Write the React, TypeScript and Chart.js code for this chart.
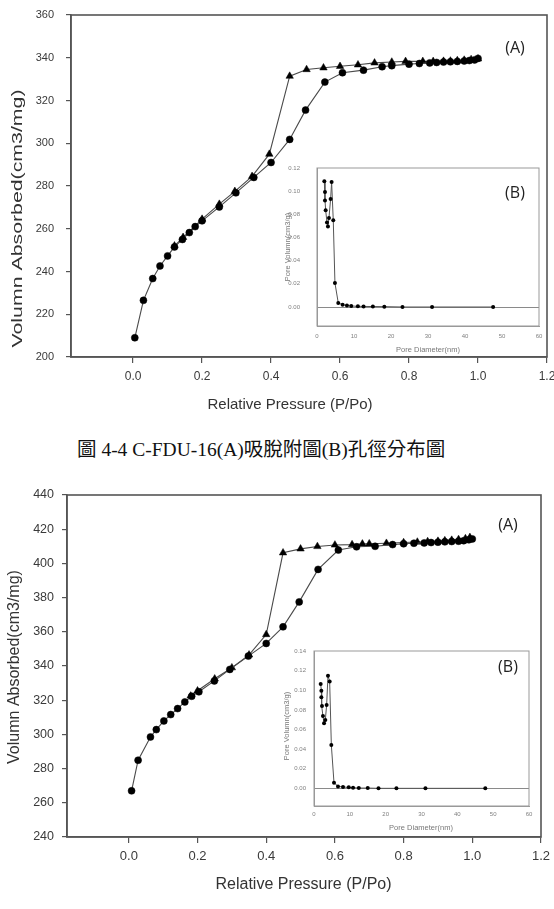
import React, { useEffect, useRef } from 'react';
import { Chart, registerables } from 'chart.js';
Chart.register(...registerables);

// ---------- DATA ----------
// Chart (top): C-FDU-16 isotherm
const adsX1 = [0.005, 0.03, 0.057, 0.078, 0.1, 0.12, 0.143, 0.163, 0.18, 0.2, 0.25, 0.298, 0.35, 0.4, 0.454, 0.5, 0.556, 0.607, 0.668, 0.722, 0.75, 0.8, 0.83, 0.86, 0.88, 0.9, 0.92, 0.94, 0.96, 0.975, 0.99, 1.0];
const adsY1 = [209, 226.5, 236.7, 242.6, 247.3, 251.5, 255, 258.2, 261, 263.7, 270.2, 276.8, 284, 291, 301.8, 315.5, 328.6, 333, 334.2, 335.8, 336.3, 337, 337.3, 337.6, 337.8, 338, 338.1, 338.3, 338.5, 338.7, 339, 339.7];
const desX1 = [1.0, 0.98, 0.96, 0.94, 0.92, 0.9, 0.87, 0.84, 0.79, 0.75, 0.7, 0.652, 0.6, 0.552, 0.503, 0.454, 0.395, 0.345, 0.295, 0.25, 0.2, 0.145, 0.12];
const desY1 = [339.5, 339.2, 338.9, 338.7, 338.5, 338.4, 338.3, 338.3, 338.3, 338, 337.6, 336.7, 336, 335.3, 334.5, 331.4, 294.9, 284.5, 277.5, 271.5, 264.5, 256, 252];

// Inset (top): pore size distribution
const poreX1 = [1.98, 2.16, 2.16, 2.34, 2.7, 2.96, 3.23, 3.68, 3.95, 4.4, 4.85, 5.75, 6.92, 8.09, 9.25, 11.05, 12.58, 15.1, 18.2, 23.1, 31.1, 47.6];
const poreY1 = [0.1085, 0.0993, 0.092, 0.0835, 0.073, 0.0696, 0.0768, 0.0932, 0.108, 0.0748, 0.0207, 0.0035, 0.002, 0.0012, 0.0009, 0.0006, 0.0005, 0.0004, 0.0003, 0, 0, 0];

// Chart (bottom): isotherm
const adsX2 = [0.008, 0.027, 0.063, 0.08, 0.102, 0.122, 0.142, 0.163, 0.183, 0.204, 0.249, 0.294, 0.348, 0.4, 0.449, 0.496, 0.551, 0.61, 0.663, 0.717, 0.768, 0.8, 0.83, 0.86, 0.88, 0.9, 0.92, 0.94, 0.96, 0.975, 0.99, 1.0];
const adsY2 = [267, 284.9, 298.5, 302.8, 307.9, 311.6, 315.1, 319, 322.3, 324.9, 331.3, 338, 345.8, 353.2, 362.9, 377.5, 396.5, 407.8, 409.7, 410, 411, 411.5, 411.8, 412, 412.2, 412.4, 412.6, 412.8, 413, 413.3, 413.8, 414.3];
const desX2 = [0.993, 0.98, 0.96, 0.94, 0.92, 0.9, 0.87, 0.84, 0.8, 0.75, 0.7, 0.68, 0.65, 0.6, 0.549, 0.5, 0.449, 0.4, 0.35, 0.3, 0.25, 0.2, 0.18];
const desY2 = [415.2, 414.5, 414, 413.6, 413.3, 413, 412.8, 412.5, 412.2, 411.8, 411.5, 411.4, 411, 410.8, 409.9, 408.5, 406.2, 358.4, 346.5, 339, 332.5, 325.5, 322.5];

// Inset (bottom)
const poreX2 = [1.86, 2.05, 2.05, 2.23, 2.5, 2.8, 3.16, 3.53, 3.9, 4.37, 4.84, 5.58, 6.7, 8.1, 9.7, 10.9, 12.5, 15, 18, 23, 31.1, 47.8];
const poreY2 = [0.1063, 0.0996, 0.0928, 0.0839, 0.0737, 0.0663, 0.0697, 0.085, 0.1148, 0.109, 0.0442, 0.0058, 0.002, 0.0014, 0.001, 0.0007, 0.0003, 0.0003, 0, 0, 0, 0];

// Tick labels
const pressureTicks = [0, 0.2, 0.4, 0.6, 0.8, 1.0, 1.2];
const volumeTicks1 = [200, 220, 240, 260, 280, 300, 320, 340, 360];
const volumeTicks2 = [240, 260, 280, 300, 320, 340, 360, 380, 400, 420, 440];
const diameterTicks = [0, 10, 20, 30, 40, 50, 60];
const poreVolTicks1 = [0, 0.02, 0.04, 0.06, 0.08, 0.1, 0.12];
const poreVolTicks2 = [0, 0.02, 0.04, 0.06, 0.08, 0.1, 0.12, 0.14];

// Texts
const yTitleMain = 'Volumn Absorbed(cm3/mg)';
const xTitleMain = 'Relative Pressure (P/Po)';
const yTitleInset = 'Pore Volumn(cm3/g)';
const xTitleInset = 'Pore Diameter(nm)';
const caption = '圖 4-4 C-FDU-16(A)吸脫附圖(B)孔徑分布圖';

// ---------- HELPERS ----------
const SANS = "'Liberation Sans', Arial, sans-serif";
const LABEL_FONT = "'Open Sans', 'Liberation Sans', sans-serif";

type TextItem = { text: string; x: number; y: number; font: string; color: string; rotate?: boolean; sx?: number };

function zip(xs: number[], ys: number[]) {
  return xs.map((x, i) => ({ x, y: ys[i] }));
}

function makeDecor(ox: number, oy: number, items: TextItem[], frameColor: string, frameWidth: number) {
  return {
    id: 'decor',
    afterDraw(chart: any) {
      const ctx = chart.ctx;
      const a = chart.chartArea;
      ctx.save();
      ctx.strokeStyle = frameColor;
      ctx.lineWidth = frameWidth;
      ctx.strokeRect(a.left, a.top, a.right - a.left, a.bottom - a.top);
      ctx.restore();
      for (const t of items) {
        ctx.save();
        ctx.font = t.font;
        ctx.fillStyle = t.color;
        ctx.textAlign = 'center';
        ctx.textBaseline = 'middle';
        ctx.translate(t.x - ox, t.y - oy);
        if (t.rotate) ctx.rotate(-Math.PI / 2);
        if (t.sx) ctx.scale(t.sx, 1);
        ctx.fillText(t.text, 0, 0);
        ctx.restore();
      }
    },
  };
}

type Box = { left: number; top: number; width: number; height: number };
type Area = { l: number; t: number; r: number; b: number };

function CanvasChart({ box, build }: { box: Box; build: () => any }) {
  const ref = useRef<HTMLCanvasElement | null>(null);
  useEffect(() => {
    if (!ref.current) return;
    const chart = new Chart(ref.current, build());
    return () => chart.destroy();
  }, []);
  return (
    <div style={{ position: 'absolute', left: box.left, top: box.top, width: box.width, height: box.height }}>
      <canvas ref={ref} width={box.width} height={box.height} style={{ width: box.width, height: box.height, display: 'block' }} />
    </div>
  );
}

function fixedAxis(ticks: number[], size: number, horizontal: boolean) {
  return {
    afterBuildTicks: (s: any) => {
      s.ticks = ticks.map((v) => ({ value: v }));
    },
    afterFit: (s: any) => {
      if (horizontal) s.height = size;
      else s.width = size;
      s.paddingLeft = 0;
      s.paddingRight = 0;
      s.paddingTop = 0;
      s.paddingBottom = 0;
    },
  };
}

function mainConfig(opts: {
  box: Box; area: Area; yMin: number; yMax: number; yTicks: number[];
  ads: { x: number; y: number }[]; des: { x: number; y: number }[];
  xFont: number; yFont: number; xPad: number; yPad: number; items: TextItem[];
}) {
  const { box, area } = opts;
  const tickColor = '#3a3a3a';
  return {
    type: 'scatter',
    data: {
      datasets: [
        {
          label: 'Adsorption', data: opts.ads, showLine: true, borderColor: '#4a4a4a', borderWidth: 1.1,
          pointStyle: 'circle', pointRadius: 3.5, pointBackgroundColor: '#000', pointBorderColor: '#000', pointBorderWidth: 0.5,
        },
        {
          label: 'Desorption', data: opts.des, showLine: true, borderColor: '#4a4a4a', borderWidth: 1.1,
          pointStyle: 'triangle', pointRadius: 4.3, pointBackgroundColor: '#000', pointBorderColor: '#000', pointBorderWidth: 0.5,
        },
      ],
    },
    options: {
      responsive: false, animation: false, devicePixelRatio: 1,
      layout: { padding: { left: 0, top: area.t - box.top, right: box.left + box.width - area.r, bottom: 0 } },
      plugins: { legend: { display: false }, tooltip: { enabled: false } },
      scales: {
        x: {
          type: 'linear', min: -0.18, max: 1.2,
          ...fixedAxis(pressureTicks, box.top + box.height - area.b, true),
          grid: { display: true, drawOnChartArea: false, drawTicks: true, tickLength: 6, color: '#555', lineWidth: 1.2 },
          border: { display: true, color: '#555', width: 1.5 },
          ticks: { autoSkip: false, maxRotation: 0, padding: opts.xPad, color: tickColor, font: { family: SANS, size: opts.xFont }, callback: (v: any) => Number(v).toFixed(1) },
        },
        y: {
          type: 'linear', min: opts.yMin, max: opts.yMax,
          ...fixedAxis(opts.yTicks, area.l - box.left, false),
          grid: { display: true, drawOnChartArea: false, drawTicks: true, tickLength: 5, color: '#555', lineWidth: 1.2 },
          border: { display: true, color: '#555', width: 1.5 },
          ticks: { autoSkip: false, padding: opts.yPad, color: tickColor, font: { family: SANS, size: opts.yFont }, callback: (v: any) => String(v) },
        },
      },
    },
    plugins: [makeDecor(box.left, box.top, opts.items, '#555', 1.6)],
  };
}

function insetConfig(opts: {
  box: Box; area: Area; yMin: number; yMax: number; yTicks: number[];
  pts: { x: number; y: number }[]; xPad: number; yPad: number; items: TextItem[];
}) {
  const { box, area } = opts;
  const c = '#808080';
  return {
    type: 'scatter',
    data: {
      datasets: [
        {
          label: 'Pore volume', data: opts.pts, showLine: true, borderColor: '#555', borderWidth: 1,
          pointStyle: 'circle', pointRadius: 2, pointBackgroundColor: '#000', pointBorderColor: '#000', pointBorderWidth: 0,
        },
      ],
    },
    options: {
      responsive: false, animation: false, devicePixelRatio: 1,
      layout: { padding: { left: 0, top: area.t - box.top, right: box.left + box.width - area.r, bottom: 0 } },
      plugins: { legend: { display: false }, tooltip: { enabled: false } },
      scales: {
        x: {
          type: 'linear', min: 0, max: 60,
          ...fixedAxis(diameterTicks, box.top + box.height - area.b, true),
          grid: { display: true, drawOnChartArea: false, drawTicks: false, color: c },
          border: { display: true, color: '#999', width: 1 },
          ticks: { autoSkip: false, maxRotation: 0, padding: opts.xPad, color: c, font: { family: SANS, size: 6 }, callback: (v: any) => String(v) },
        },
        y: {
          type: 'linear', min: opts.yMin, max: opts.yMax,
          ...fixedAxis(opts.yTicks, area.l - box.left, false),
          grid: {
            display: true, drawOnChartArea: true, drawTicks: false, lineWidth: 1,
            color: (ctx: any) => (ctx.tick && ctx.tick.value === 0 ? '#8a8a8a' : 'rgba(0,0,0,0)'),
          },
          border: { display: true, color: '#999', width: 1 },
          ticks: { autoSkip: false, padding: opts.yPad, color: c, font: { family: SANS, size: 6 }, callback: (v: any) => Number(v).toFixed(2) },
        },
      },
    },
    plugins: [makeDecor(box.left, box.top, opts.items, '#999', 1)],
  };
}

// ---------- LAYOUT ----------
const main1Box: Box = { left: 0, top: 0, width: 554, height: 420 };
const main1Area: Area = { l: 71, t: 15, r: 547, b: 357 };
const inset1Box: Box = { left: 280, top: 160, width: 270, height: 200 };
const inset1Area: Area = { l: 317, t: 168, r: 539, b: 326 };

const main2Box: Box = { left: 0, top: 480, width: 554, height: 420 };
const main2Area: Area = { l: 67, t: 495, r: 541, b: 837 };
const inset2Box: Box = { left: 280, top: 640, width: 260, height: 200 };
const inset2Area: Area = { l: 314, t: 651, r: 529, b: 806 };

const titleColor = '#333';

export default function App() {
  return (
    <div style={{ position: 'absolute', left: 0, top: 0, width: 554, height: 909, background: '#fff', overflow: 'hidden' }}>
      <CanvasChart
        box={main1Box}
        build={() =>
          mainConfig({
            box: main1Box, area: main1Area, yMin: 200, yMax: 360, yTicks: volumeTicks1,
            ads: zip(adsX1, adsY1), des: zip(desX1, desY1), xFont: 12, yFont: 11, xPad: 6, yPad: 12,
            items: [
              { text: yTitleMain, x: 17.5, y: 218.5, font: `15px ${SANS}`, color: titleColor, rotate: true, sx: 1.42 },
              { text: xTitleMain, x: 290, y: 405, font: `15px ${SANS}`, color: titleColor },
              { text: '(A)', x: 515, y: 48, font: `16px ${LABEL_FONT}`, color: '#222' },
            ],
          })
        }
      />
      <CanvasChart
        box={inset1Box}
        build={() =>
          insetConfig({
            box: inset1Box, area: inset1Area, yMin: -0.0164, yMax: 0.12, yTicks: poreVolTicks1,
            pts: zip(poreX1, poreY1), xPad: 7, yPad: 17,
            items: [
              { text: yTitleInset, x: 288, y: 247, font: `7.5px ${SANS}`, color: '#777', rotate: true },
              { text: xTitleInset, x: 428, y: 350, font: `7.5px ${SANS}`, color: '#777' },
              { text: '(B)', x: 515, y: 193, font: `16px ${LABEL_FONT}`, color: '#222' },
            ],
          })
        }
      />
      <div
        style={{
          position: 'absolute', left: 77, top: 437, whiteSpace: 'nowrap',
          fontFamily: "'Liberation Serif', 'Noto Sans CJK TC', serif", fontSize: 19.5, color: '#111', lineHeight: '26px',
        }}
      >
        {caption}
      </div>
      <CanvasChart
        box={main2Box}
        build={() =>
          mainConfig({
            box: main2Box, area: main2Area, yMin: 240, yMax: 440, yTicks: volumeTicks2,
            ads: zip(adsX2, adsY2), des: zip(desX2, desY2), xFont: 13, yFont: 12.5, xPad: 6, yPad: 8,
            items: [
              { text: yTitleMain, x: 15, y: 667, font: `16px ${SANS}`, color: titleColor, rotate: true },
              { text: xTitleMain, x: 303.5, y: 885, font: `16px ${SANS}`, color: titleColor },
              { text: '(A)', x: 508, y: 525, font: `16px ${LABEL_FONT}`, color: '#222' },
            ],
          })
        }
      />
      <CanvasChart
        box={inset2Box}
        build={() =>
          insetConfig({
            box: inset2Box, area: inset2Area, yMin: -0.018, yMax: 0.14, yTicks: poreVolTicks2,
            pts: zip(poreX2, poreY2), xPad: 5, yPad: 8,
            items: [
              { text: yTitleInset, x: 287, y: 726, font: `7.5px ${SANS}`, color: '#777', rotate: true },
              { text: xTitleInset, x: 421, y: 828, font: `7.5px ${SANS}`, color: '#777' },
              { text: '(B)', x: 508, y: 667, font: `16px ${LABEL_FONT}`, color: '#222' },
            ],
          })
        }
      />
    </div>
  );
}
